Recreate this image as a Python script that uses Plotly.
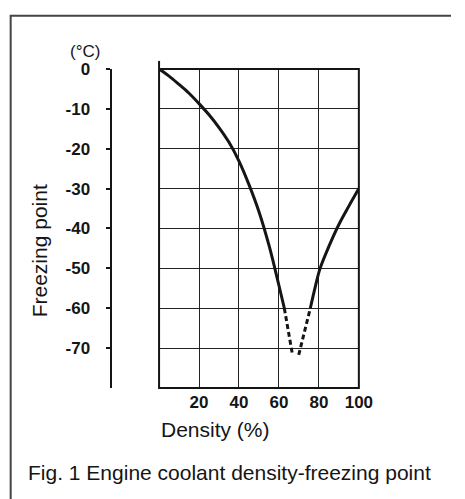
import plotly.graph_objects as go

# Data
left_x = [0, 5, 10, 15, 20, 25, 30, 35, 40, 45, 50, 55, 60, 62.7]
left_y = [0, -1.8, -3.9, -6.1, -8.7, -11.5, -14.7, -18.4, -23.1, -29, -35.8, -44.2, -54.3, -60]
right_x = [75.7, 78, 80.6, 85, 90, 95, 100]
right_y = [-60, -55, -50, -44.5, -39, -34.4, -30]
dash_left_x = [62.7, 66.8]
dash_left_y = [-60, -71.7]
dash_right_x = [69.9, 75.7]
dash_right_y = [-71.7, -60]

x_ticks = [20, 40, 60, 80, 100]
y_ticks = [0, -10, -20, -30, -40, -50, -60, -70]
y_ticktext = ["0", "-10", "-20", "-30", "-40", "-50", "-60", "-70"]

W, H = 465, 499
FONT = "Liberation Sans, Arial, sans-serif"
INK = "#151515"

def px(x):
    return x / W

def py(y):
    return 1 - y / H

fig = go.Figure()
fig.add_trace(go.Scatter(x=left_x, y=left_y, mode="lines",
                         line=dict(shape="spline", smoothing=1.0, color=INK, width=3),
                         hoverinfo="skip"))
fig.add_trace(go.Scatter(x=right_x, y=right_y, mode="lines",
                         line=dict(shape="spline", smoothing=1.0, color=INK, width=3),
                         hoverinfo="skip"))
for dx, dy in [(dash_left_x, dash_left_y), (dash_right_x, dash_right_y)]:
    fig.add_trace(go.Scatter(x=dx, y=dy, mode="lines",
                             line=dict(color=INK, width=3, dash="5px,3px"),
                             hoverinfo="skip"))

fig.update_layout(
    width=W, height=H,
    margin=dict(l=0, r=0, t=0, b=0),
    paper_bgcolor="white", plot_bgcolor="white",
    showlegend=False,
    font=dict(family=FONT, color=INK),
    xaxis=dict(
        domain=[px(164), px(370)], range=[0, 100],
        tickvals=x_ticks, showgrid=True, gridcolor="#222", gridwidth=1.3,
        zeroline=False, showline=False, ticks="",
        tickfont=dict(size=17, family=FONT, color=INK, weight="bold"),
        ticklabelstandoff=2, fixedrange=True,
    ),
    yaxis=dict(
        domain=[py(386), py(61)], range=[-80, 0],
        anchor="free", position=px(114), side="left",
        tickvals=y_ticks, ticktext=y_ticktext,
        showgrid=True, gridcolor="#222", gridwidth=1.3,
        zeroline=False, showline=True, linecolor=INK, linewidth=2,
        ticks="outside", ticklen=4, tickwidth=2, tickcolor=INK,
        tickfont=dict(size=17, family=FONT, color=INK, weight="bold"),
        ticklabelstandoff=12, fixedrange=True,
    ),
    shapes=[
        dict(type="rect", xref="x domain", yref="y domain", x0=0, x1=1, y0=0, y1=1,
             line=dict(color=INK, width=2), layer="above"),
        dict(type="line", xref="x domain", yref="y domain", x0=0, x1=0, y0=1, y1=1.025,
             line=dict(color=INK, width=2)),
        dict(type="path", xref="paper", yref="paper",
             path=f"M {px(11)},0 L {px(11)},{py(7)} L 1,{py(7)}",
             line=dict(color="#444", width=2)),
    ],
    annotations=[
        dict(text="(°C)", x=px(88), y=py(43), xref="paper", yref="paper",
             showarrow=False, xanchor="center", yanchor="middle",
             font=dict(size=17, family=FONT, color=INK)),
        dict(text="Freezing point", x=px(41), y=py(246), xref="paper", yref="paper",
             showarrow=False, textangle=-90, xanchor="center", yanchor="middle",
             font=dict(size=21, family=FONT, color=INK)),
        dict(text="Density (%)", x=px(222), y=py(428), xref="paper", yref="paper",
             showarrow=False, xanchor="center", yanchor="middle",
             font=dict(size=21, family=FONT, color=INK)),
        dict(text="Fig. 1 Engine coolant density-freezing point", x=px(27), y=py(472),
             xref="paper", yref="paper", showarrow=False,
             xanchor="left", yanchor="middle",
             font=dict(size=21, family=FONT, color=INK)),
    ],
)

fig.write_html("out.html", config={"displayModeBar": False},
               post_script="document.body.style.margin='0';document.body.style.padding='0';")
